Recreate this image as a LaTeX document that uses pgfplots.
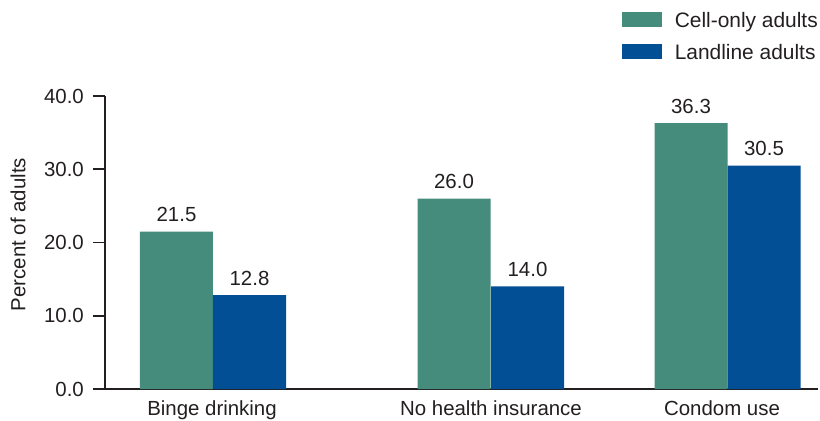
\documentclass[border=0pt]{standalone}
\usepackage{pgfplots}
\pgfplotsset{compat=1.18}
\usepackage{fontspec}
\setmainfont{Liberation Sans}
\definecolor{cellgreen}{HTML}{468C7C}
\definecolor{landblue}{HTML}{034F96}
\definecolor{ink}{HTML}{231F20}

\begin{document}
\fontsize{20.5}{24}\selectfont
\begin{tikzpicture}
\begin{axis}[
    name=ax, at={(0,0)}, anchor=south west,
    scale only axis, width=713bp, height=293bp,
    xmin=105, xmax=818, ymin=0, ymax=40,
    axis x line*=bottom, axis y line*=left,
    axis line style={line width=1.8bp, ink},
    every tick/.style={line width=1.8bp, ink},
    tick align=outside,
    major tick length=12bp,
    ytick={0,10,20,30,40},
    yticklabel style={/pgf/number format/fixed, /pgf/number format/fixed zerofill,
        /pgf/number format/precision=1, /pgf/number format/assume math mode=true,
        text=ink, inner sep=0pt, xshift=-9bp},
    xtick={212,491,722},
    xticklabels={Binge drinking, No health insurance, Condom use},
    xtick style={draw=none},
    xticklabel style={text=ink, anchor=north, inner sep=0pt, text height=14.5bp},
    extra x ticks={105,353,613},
    extra x tick labels={},
    extra x tick style={major tick length=8bp, tick style={draw=ink, line width=1.8bp}},
    ylabel={Percent of adults},
    every axis y label/.style={at={(axis description cs:-0.122,0.527)}, rotate=90, anchor=center, text=ink},
    ybar, bar shift=0pt, bar width=73,
    nodes near coords,
    nodes near coords style={text=ink, anchor=base, inner sep=0pt, yshift=10bp,
        /pgf/number format/fixed, /pgf/number format/fixed zerofill,
        /pgf/number format/precision=1, /pgf/number format/assume math mode=true},
    legend style={at={(rel axis cs:1.0,1.286)}, anchor=north east, draw=none, fill=none,
        inner sep=0pt, row sep=12bp, text=ink, font=\fontsize{21}{24}\selectfont,
        nodes={inner sep=0pt, text height=15bp, text depth=4bp}},
    legend cell align=left,
    legend image code/.code={\fill[#1] (0bp,-5bp) rectangle (40bp,10bp); \path (53bp,0bp);},
]
\addplot[draw=none, fill=cellgreen] coordinates {(176.5,21.5) (454,26.0) (691,36.3)};
\addlegendentry{Cell-only adults}
\addplot[draw=none, fill=landblue] coordinates {(249.5,12.8) (527.5,14.0) (764,30.5)};
\addlegendentry{Landline adults}
\end{axis}
\pgfresetboundingbox
\path[use as bounding box] ([xshift=-105bp,yshift=-32bp]ax.south west) rectangle ([xshift=2bp,yshift=96bp]ax.north east);
\end{tikzpicture}
\end{document}
